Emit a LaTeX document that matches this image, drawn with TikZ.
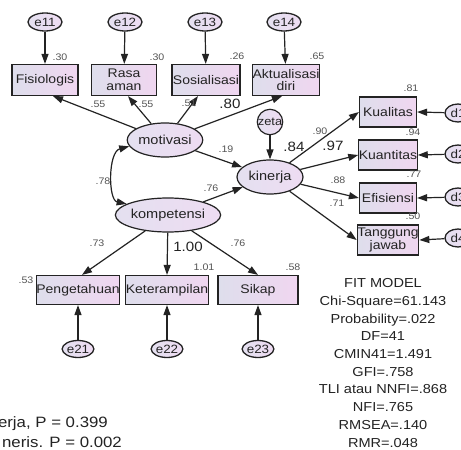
\documentclass[tikz,border=0pt]{standalone}
\usepackage{fontspec}
\setmainfont{Liberation Sans}[FakeStretch=1.12]
\usetikzlibrary{arrows.meta,shapes.geometric}
\definecolor{boxL}{RGB}{222,222,236}
\definecolor{boxR}{RGB}{240,214,240}
\definecolor{latL}{RGB}{228,224,240}
\definecolor{latR}{RGB}{238,220,242}
\definecolor{ink}{RGB}{35,35,35}
\definecolor{coefc}{RGB}{85,85,85}
\begin{document}
\begin{tikzpicture}[x=1pt,y=-1pt,
 obs/.style={rectangle,draw=ink,line width=1.2pt,left color=boxL,right color=boxR,inner sep=0pt,align=center,font=\fontsize{12.5}{12.5}\selectfont,text=ink},
 lat/.style={ellipse,draw=ink,line width=1.2pt,left color=latL,right color=latR,inner sep=0pt,font=\fontsize{13}{13}\selectfont,text=ink,minimum width=66pt,minimum height=34pt},
 err/.style={ellipse,draw=ink,line width=1.3pt,left color=latL,right color=latR,inner sep=0pt,font=\fontsize{12}{12}\selectfont,text=ink,minimum width=34pt,minimum height=18pt},
 arr/.style={draw=ink,line width=1.2pt,-{Triangle[length=10pt,width=7pt]}},
 cor/.style={draw=ink,line width=1.2pt,{Triangle[length=10pt,width=7pt]}-{Triangle[length=10pt,width=7pt]}},
 coef/.style={font=\fontsize{9.5}{10}\selectfont,text=coefc,inner sep=0pt},
 bigcoef/.style={font=\fontsize{13.5}{14}\selectfont,text=ink,inner sep=0pt},
 fit/.style={font=\fontsize{13}{17.7}\selectfont,text=ink,align=center,inner sep=0pt}
]
\useasboundingbox (0,0) rectangle (461,450);
\fill[white] (0,0) rectangle (461,450);

% top indicators
\node[obs,minimum width=66pt,minimum height=31pt] (fis) at (45,80) {Fisiologis};
\node[obs,minimum width=65pt,minimum height=31pt] (ras) at (124,80) {Rasa\\aman};
\node[obs,minimum width=68pt,minimum height=31pt] (sos) at (206,80) {Sosialisasi};
\node[obs,minimum width=66pt,minimum height=31pt] (akt) at (286,80) {Aktualisasi\\diri};
\node[err] (e11) at (45,22) {e11};
\node[err] (e12) at (125,22) {e12};
\node[err] (e13) at (205,22) {e13};
\node[err] (e14) at (284,22) {e14};

% latent
\node[lat] (mot) at (165,140) {motivasi};
\node[lat] (kin) at (270,177) {kinerja};
\node[lat,minimum width=67pt] (kom) at (168,215) {kompetensi};
\node[circle,draw=ink,line width=1.2pt,left color=latL,right color=latR,inner sep=0pt,minimum size=25pt,font=\fontsize{11.5}{12}\selectfont,text=ink] (zeta) at (270,122) {zeta};

% right indicators
\node[obs,minimum width=57pt,minimum height=30pt] (kua) at (388,112) {Kualitas};
\node[obs,minimum width=57pt,minimum height=30pt] (kun) at (388,155) {Kuantitas};
\node[obs,minimum width=57pt,minimum height=30pt] (efi) at (388,198) {Efisiensi};
\node[obs,minimum width=57pt,minimum height=30pt] (tan) at (388,240) {Tanggung\\jawab};
\node[err,minimum width=26pt] (d1) at (458,113) {d1};
\node[err,minimum width=26pt] (d2) at (458,154) {d2};
\node[err,minimum width=26pt] (d3) at (458,197) {d3};
\node[err,minimum width=26pt] (d4) at (458,238) {d4};

% bottom indicators
\node[obs,minimum width=81pt,minimum height=29pt] (pen) at (78,290) {Pengetahuan};
\node[obs,minimum width=79pt,minimum height=29pt] (ket) at (167,290) {Keterampilan};
\node[obs,minimum width=80pt,minimum height=29pt] (sik) at (258,290) {Sikap};
\node[err,minimum width=30pt,minimum height=17pt] (e21) at (78,349) {e21};
\node[err,minimum width=30pt,minimum height=17pt] (e22) at (167,349) {e22};
\node[err,minimum width=30pt,minimum height=17pt] (e23) at (258,349) {e23};

% paths
\draw[arr] (e11) -- (fis);
\draw[arr] (e12) -- (ras);
\draw[arr] (e13) -- (sos);
\draw[arr] (e14) -- (akt);
\draw[arr] (mot) -- ([xshift=8pt]fis.south);
\draw[arr] (mot) -- ([xshift=4pt]ras.south);
\draw[arr] (mot) -- ([xshift=-8pt]sos.south);
\draw[arr] (mot) -- ([xshift=-4pt]akt.south);
\draw[arr] (mot) -- (kin);
\draw[arr] (kom) -- (kin);
\draw[arr] (zeta) -- (kin);
\draw[cor] (mot.190) .. controls (108,152) and (108,200) .. (kom.165);
\draw[arr] (kin) -- (kua.west);
\draw[arr] (kin) -- (kun.west);
\draw[arr] (kin) -- (efi.west);
\draw[arr] (kin) -- (tan.west);
\draw[arr] (d1) -- (kua.east);
\draw[arr] (d2) -- (kun.east);
\draw[arr] (d3) -- (efi.east);
\draw[arr] (d4) -- (tan.east);
\draw[arr] (kom) -- ([xshift=4pt]pen.north);
\draw[arr] (kom) -- (ket.north);
\draw[arr] (kom) -- (sik.north);
\draw[arr] (e21) -- (pen);
\draw[arr] (e22) -- (ket);
\draw[arr] (e23) -- (sik);

% coefficients
\node[coef] (c1) at (60,57) {.30};
\node[coef] (c2) at (157,57) {.30};
\node[coef] (c3) at (237,56) {.26};
\node[coef] (c4) at (317,56) {.65};
\node[coef] (c5) at (98,104) {.55};
\node[coef] (c6) at (146,104) {.55};
\node[coef] (c7) at (189,103) {.51};
\node[bigcoef] (c8) at (230,104) {.80};
\node[coef] (c9) at (226,149) {.19};
\node[coef] (c10) at (211,188) {.76};
\node[bigcoef] (c11) at (294,147) {.84};
\node[coef] (c12) at (103,181) {.78};
\node[coef] (c13) at (320,131) {.90};
\node[bigcoef] (c14) at (333,146) {.97};
\node[coef] (c15) at (338,180) {.88};
\node[coef] (c16) at (337,203) {.71};
\node[coef] (c17) at (411,88) {.81};
\node[coef] (c18) at (413,132) {.94};
\node[coef] (c19) at (414,174) {.77};
\node[coef] (c20) at (413,216) {.50};
\node[coef] (c21) at (97,243) {.73};
\node[bigcoef] (c22) at (188,247) {1.00};
\node[coef] (c23) at (238,243) {.76};
\node[coef] (c24) at (26,280) {.53};
\node[coef] (c25) at (204,267) {1.01};
\node[coef] (c26) at (293,267) {.58};

% fit block
\node[fit,anchor=north] (fitm) at (383,278.5) {FIT MODEL\\Chi-Square=61.143\\Probability=.022\\DF=41\\CMIN41=1.491\\GFI=.758\\TLI atau NNFI=.868\\NFI=.765\\RMSEA=.140\\RMR=.048};

% bottom-left notes
\node[anchor=base east,inner sep=0pt,font=\fontsize{15}{16}\selectfont,text=ink] (n1) at (108,427.5) {erja, P = 0.399};
\node[anchor=base east,inner sep=0pt,font=\fontsize{15}{16}\selectfont,text=ink] (n2) at (122,447.5) {neris. P = 0.002};
\end{tikzpicture}
\end{document}
